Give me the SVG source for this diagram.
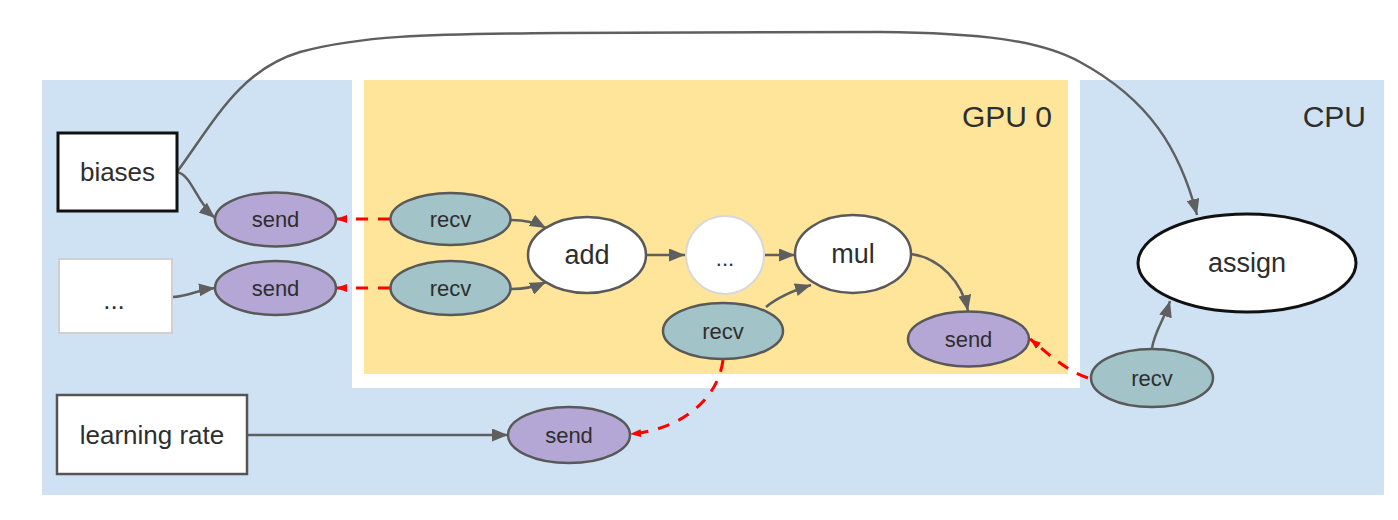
<svg xmlns="http://www.w3.org/2000/svg" width="1398" height="520" viewBox="0 0 1398 520">
<defs>
<style>
text{font-family:"Liberation Sans",Arial,sans-serif;fill:#2e2e2e;text-anchor:middle;dominant-baseline:central}
.lbl{font-size:26px}
.big{font-size:27px}
.small{font-size:22px}
.dev{font-size:30px;text-anchor:end;dominant-baseline:auto}
.send{fill:#b4a7d6;stroke:#595959;stroke-width:2.5}
.recv{fill:#a2c4c9;stroke:#595959;stroke-width:2.5}
.op{fill:#fff;stroke:#595959;stroke-width:2.5}
.edge{fill:none;stroke:#5f5f5f;stroke-width:2.5}
.red{fill:none;stroke:#ff0000;stroke-width:3;stroke-dasharray:12 10}
</style>
<marker id="ag" markerUnits="userSpaceOnUse" markerWidth="17" markerHeight="13" refX="16" refY="6.5" orient="auto">
<path d="M0,0 L16,6.5 L0,13 z" fill="#5f5f5f"/>
</marker>
<marker id="ar" markerUnits="userSpaceOnUse" markerWidth="12" markerHeight="8" refX="11" refY="4" orient="auto">
<path d="M0,0 L11,4 L0,8 z" fill="#ff0000"/>
</marker>
</defs>
<rect width="1398" height="520" fill="#fff"/>
<g id="cpu-region">
<rect x="42" y="80" width="1342" height="415" fill="#cfe2f3"/>
<rect x="352" y="80" width="728" height="308" fill="#fff"/>
<text class="dev" x="1366" y="127">CPU</text>
</g>
<g id="gpu-region">
<rect x="364" y="80" width="704" height="294" fill="#ffe599"/>
<text class="dev" x="1052" y="127">GPU 0</text>
</g>
<g id="connectors">
<path class="edge" d="M177,172 C215,120 240,70 300,52 C360,36 420,34 560,33 L880,32 C980,33 1040,40 1080,62 C1150,100 1180,150 1197,215" marker-end="url(#ag)"/>
<path class="edge" d="M177,172 C192,175 196,202 215,218" marker-end="url(#ag)"/>
<path class="edge" d="M173,297 C188,296 198,290 215,288" marker-end="url(#ag)"/>
<path class="red" d="M390,219 L336,219" marker-end="url(#ar)"/>
<path class="red" d="M390,288 L336,288" marker-end="url(#ar)"/>
<path class="edge" d="M511,220 C525,220 535,222 546,228" marker-end="url(#ag)"/>
<path class="edge" d="M511,289 C525,289 535,287 546,282" marker-end="url(#ag)"/>
<path class="edge" d="M646,255 L685,255" marker-end="url(#ag)"/>
<path class="edge" d="M765,255 L795,255" marker-end="url(#ag)"/>
<path class="edge" d="M766,307 C778,297 795,290 811,285" marker-end="url(#ag)"/>
<path class="edge" d="M911,254 C940,258 962,282 968,311" marker-end="url(#ag)"/>
<path class="red" d="M1088,378 C1065,370 1050,355 1030,339" marker-end="url(#ar)"/>
<path class="edge" d="M1152,348 C1155,330 1165,318 1170,301" marker-end="url(#ag)"/>
<path class="red" d="M723,360 C718,400 680,430 630,434" marker-end="url(#ar)"/>
<path class="edge" d="M248,435 L508,435" marker-end="url(#ag)"/>
</g>
<g id="biases">
<rect x="58" y="133" width="119" height="78" fill="#fff" stroke="#111" stroke-width="3"/>
<text class="lbl" x="117.5" y="172">biases</text>
</g>
<g id="others">
<rect x="59" y="259" width="113" height="74" fill="#fff" stroke="#d0d0d0" stroke-width="2"/>
<text class="lbl" x="114" y="300">...</text>
</g>
<g id="learning-rate">
<rect x="57" y="395" width="190" height="79" fill="#fff" stroke="#555" stroke-width="2.5"/>
<text class="lbl" x="152" y="434.5">learning rate</text>
</g>
<g id="send-biases">
<ellipse class="send" cx="275.5" cy="219.5" rx="60.5" ry="27"/>
<text class="small" x="275.5" y="219.5">send</text>
</g>
<g id="send-others">
<ellipse class="send" cx="275.5" cy="288" rx="60.5" ry="27"/>
<text class="small" x="275.5" y="288">send</text>
</g>
<g id="recv-biases">
<ellipse class="recv" cx="450.5" cy="219" rx="60" ry="26"/>
<text class="small" x="450.5" y="219">recv</text>
</g>
<g id="recv-others">
<ellipse class="recv" cx="450.5" cy="288" rx="60" ry="27"/>
<text class="small" x="450.5" y="288">recv</text>
</g>
<g id="add">
<ellipse class="op" cx="587" cy="255" rx="59" ry="38"/>
<text class="big" x="587" y="255">add</text>
</g>
<g id="ellipsis-op">
<circle cx="725" cy="255" r="39" fill="#fff" stroke="#d8d8d8" stroke-width="2"/>
<text class="small" x="725" y="258">...</text>
</g>
<g id="recv-lr">
<ellipse class="recv" cx="723" cy="331" rx="60" ry="28"/>
<text class="small" x="723" y="331">recv</text>
</g>
<g id="mul">
<ellipse class="op" cx="853" cy="254" rx="58" ry="39"/>
<text class="big" x="853" y="254">mul</text>
</g>
<g id="send-mul">
<ellipse class="send" cx="968.5" cy="339" rx="60.5" ry="27.5"/>
<text class="small" x="968.5" y="339">send</text>
</g>
<g id="recv-mul">
<ellipse class="recv" cx="1152" cy="378" rx="61" ry="29"/>
<text class="small" x="1152" y="378">recv</text>
</g>
<g id="assign">
<ellipse cx="1247" cy="263" rx="109" ry="49" fill="#fff" stroke="#111" stroke-width="3"/>
<text class="big" x="1247" y="263">assign</text>
</g>
<g id="send-lr">
<ellipse class="send" cx="569" cy="435" rx="61" ry="28"/>
<text class="small" x="569" y="435">send</text>
</g>
</svg>
